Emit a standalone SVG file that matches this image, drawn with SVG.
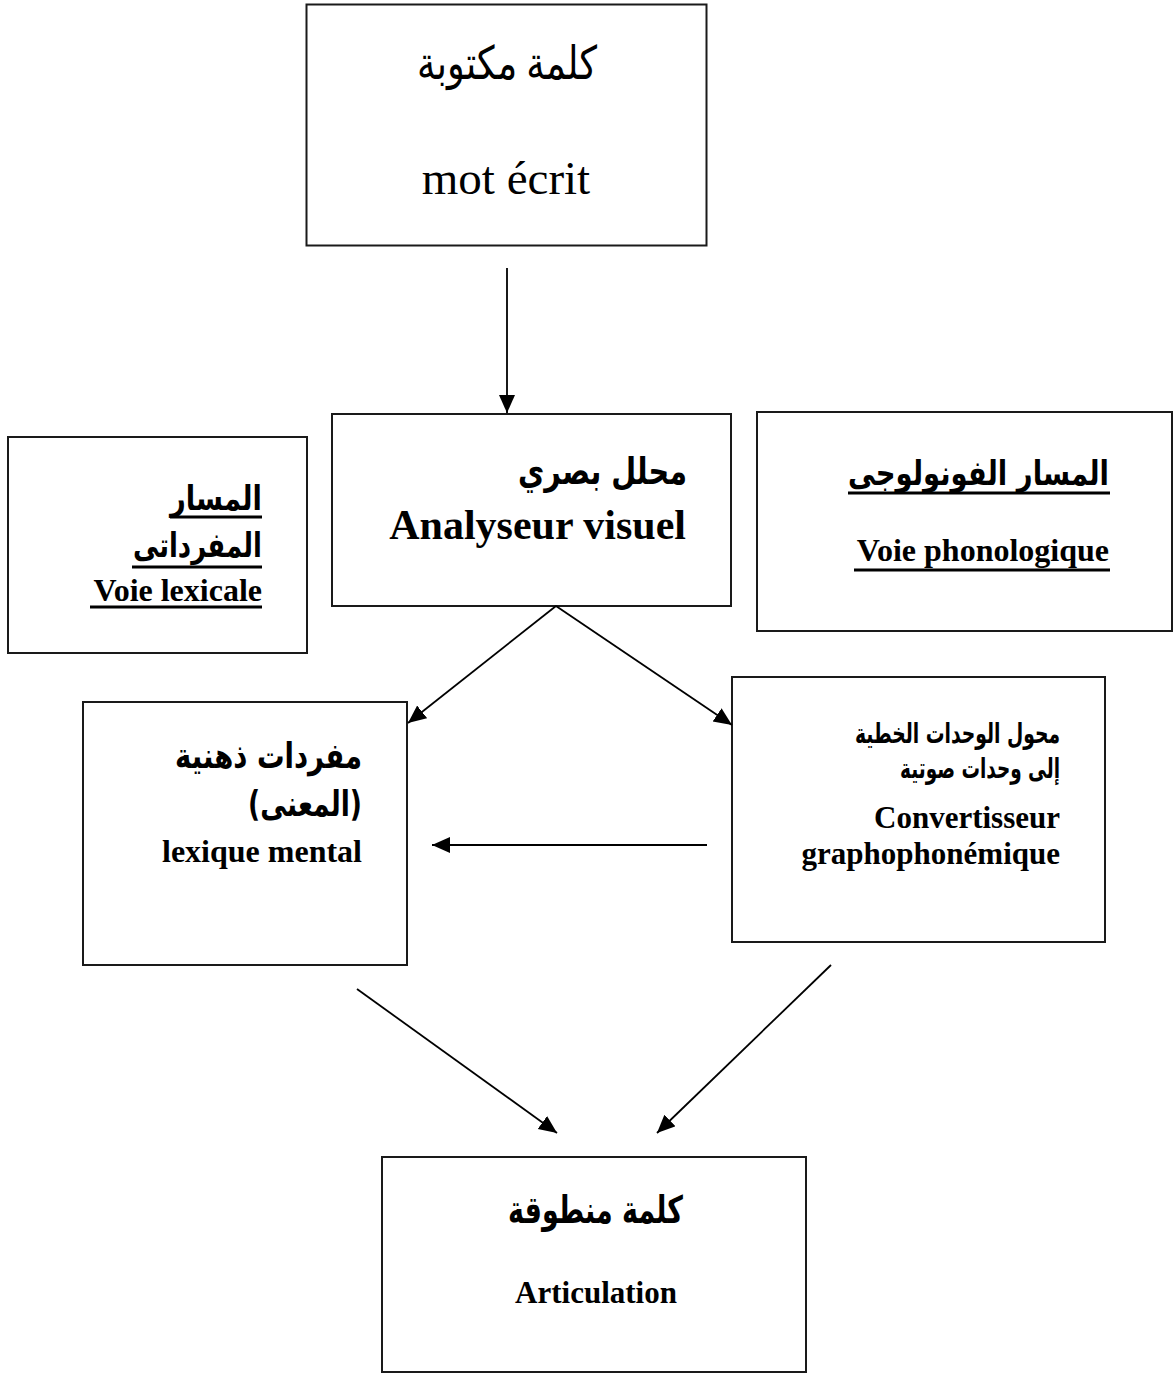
<svg xmlns="http://www.w3.org/2000/svg" width="1173" height="1374" viewBox="0 0 1173 1374">
<style>
.box{fill:#fff;stroke:#1a1a1a;stroke-width:2}
.conn{stroke:#000;stroke-width:1.8;fill:none}
.ul{stroke:#000;stroke-width:3}
.ar{font-family:"DejaVu Sans","Liberation Sans",sans-serif;font-weight:bold;fill:#000}
.arr{font-family:"Liberation Serif","DejaVu Serif","DejaVu Sans",serif;fill:#000}
.en{font-family:"Liberation Serif","DejaVu Serif",serif;font-weight:bold;fill:#000}
.enr{font-family:"Liberation Serif","DejaVu Serif",serif;fill:#000}
</style>
<defs>
<marker id="ah" markerUnits="userSpaceOnUse" markerWidth="19" markerHeight="17" refX="18" refY="8" orient="auto">
<path d="M0,0 L18,8 L0,16 Z" fill="#000"/>
</marker>
</defs>
<rect width="1173" height="1374" fill="#fff"/>

<g id="mot-ecrit">
<rect class="box" x="306.5" y="4.5" width="400" height="241"/>
<text class="arr" x="597" y="79" font-size="46" text-anchor="end" textLength="180" lengthAdjust="spacingAndGlyphs">كلمة مكتوبة</text>
<text class="enr" x="506" y="194" font-size="47" text-anchor="middle">mot écrit</text>
</g>

<g id="analyseur">
<rect class="box" x="332" y="414" width="399" height="192"/>
<text class="ar" x="687" y="484" font-size="37" text-anchor="end" textLength="169" lengthAdjust="spacingAndGlyphs">محلل بصري</text>
<text class="en" x="686" y="539" font-size="42" text-anchor="end">Analyseur visuel</text>
</g>

<g id="voie-lexicale">
<rect class="box" x="8" y="437" width="299" height="216"/>
<text class="ar" x="262" y="510" font-size="34" text-anchor="end" textLength="92" lengthAdjust="spacingAndGlyphs">المسار</text>
<line class="ul" x1="170" y1="517" x2="262" y2="517"/>
<text class="ar" x="262" y="557" font-size="34" text-anchor="end" textLength="129" lengthAdjust="spacingAndGlyphs">المفرداتى</text>
<line class="ul" x1="132" y1="567" x2="262" y2="567"/>
<text class="en" x="262" y="601" font-size="32" text-anchor="end">Voie lexicale</text>
<line class="ul" x1="90" y1="607" x2="262" y2="607"/>
</g>

<g id="voie-phonologique">
<rect class="box" x="757" y="412" width="415" height="219"/>
<text class="ar" x="1109" y="485" font-size="34" text-anchor="end" textLength="261" lengthAdjust="spacingAndGlyphs">المسار الفونولوجى</text>
<line class="ul" x1="848" y1="493" x2="1110" y2="493"/>
<text class="en" x="1109" y="561" font-size="32" text-anchor="end">Voie phonologique</text>
<line class="ul" x1="854" y1="570" x2="1110" y2="570"/>
</g>

<g id="lexique-mental">
<rect class="box" x="83" y="702" width="324" height="263"/>
<text class="ar" x="362" y="768" font-size="35" text-anchor="end" textLength="187" lengthAdjust="spacingAndGlyphs">مفردات ذهنية</text>
<text class="ar" x="362" y="816" font-size="35" text-anchor="end" textLength="114" lengthAdjust="spacingAndGlyphs">(المعنى)</text>
<text class="en" x="362" y="862" font-size="32" text-anchor="end">lexique mental</text>
</g>

<g id="convertisseur">
<rect class="box" x="732" y="677" width="373" height="265"/>
<text class="ar" x="1060" y="743" font-size="28" text-anchor="end" textLength="205" lengthAdjust="spacingAndGlyphs">محول الوحدات الخطية</text>
<text class="ar" x="1060" y="778" font-size="28" text-anchor="end" textLength="160" lengthAdjust="spacingAndGlyphs">إلى وحدات صوتية</text>
<text class="en" x="1060" y="828" font-size="31" text-anchor="end">Convertisseur</text>
<text class="en" x="1060" y="864" font-size="31" text-anchor="end">graphophonémique</text>
</g>

<g id="articulation">
<rect class="box" x="382" y="1157" width="424" height="215"/>
<text class="ar" x="683" y="1223" font-size="38" text-anchor="end" textLength="175" lengthAdjust="spacingAndGlyphs">كلمة منطوقة</text>
<text class="en" x="596" y="1303" font-size="31" text-anchor="middle">Articulation</text>
</g>

<g id="connectors">
<line class="conn" x1="507" y1="268" x2="507" y2="413" marker-end="url(#ah)"/>
<line class="conn" x1="556" y1="606" x2="408" y2="723" marker-end="url(#ah)"/>
<line class="conn" x1="556" y1="606" x2="732" y2="725" marker-end="url(#ah)"/>
<line class="conn" x1="707" y1="845" x2="432" y2="845" marker-end="url(#ah)"/>
<line class="conn" x1="357" y1="989" x2="557" y2="1133" marker-end="url(#ah)"/>
<line class="conn" x1="831" y1="965" x2="657" y2="1133" marker-end="url(#ah)"/>
</g>
</svg>
